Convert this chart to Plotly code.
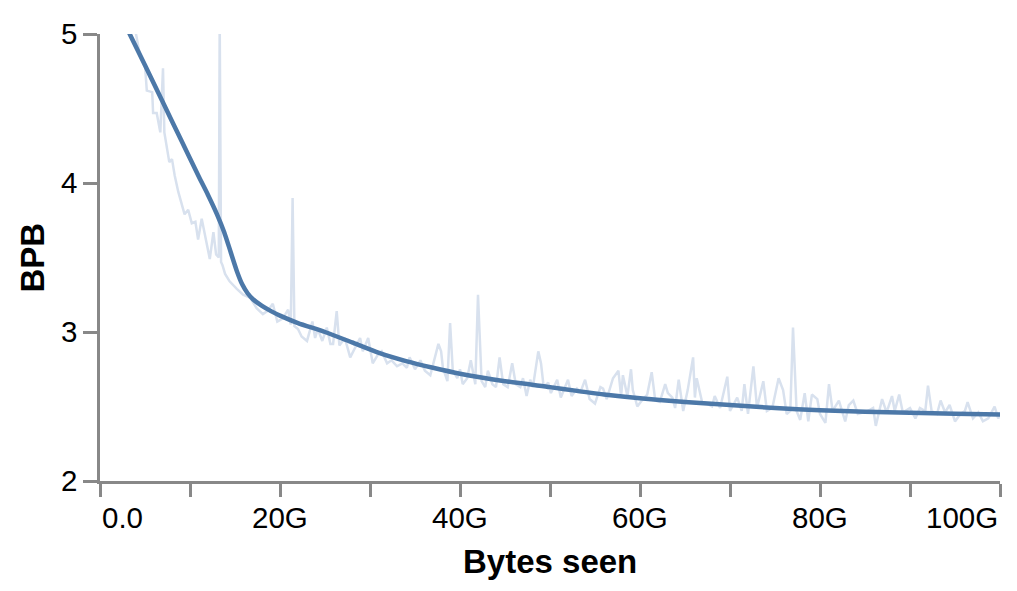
import plotly.graph_objects as go

# raw per-step BPB (x in G bytes seen)
raw_x = [
    3.5, 4.0, 4.4, 5.0, 5.2, 5.8, 5.9, 6.3, 6.7, 7.0,
    7.15, 7.4, 7.7, 8.0, 8.3, 8.7, 9.1, 9.4, 9.8, 10.2,
    10.6, 10.9, 11.3, 11.7, 12.2, 12.6, 12.9, 13.2, 13.3, 13.45,
    13.6, 13.9, 14.4, 15.2, 15.9, 16.7, 17.4, 18.1, 18.6, 19.2,
    19.7, 20.3, 20.9, 21.2, 21.4, 21.6, 22.0, 22.4, 23.0, 23.6,
    23.9, 24.2, 24.7, 25.2, 25.6, 25.9, 26.3, 26.6, 27.2, 27.8,
    28.3, 28.9, 29.2, 29.8, 30.3, 30.9, 31.3, 31.9, 32.4, 33.0,
    33.6, 34.1, 34.4, 35.0, 35.6, 36.1, 36.7, 37.2, 37.6, 37.9,
    38.1, 38.6, 38.9, 39.2, 39.7, 40.0, 40.3, 40.8, 41.2, 41.7,
    42.0, 42.4, 42.8, 43.1, 43.6, 44.0, 44.4, 44.8, 45.3, 45.8,
    46.2, 46.7, 47.0, 47.4, 47.8, 48.1, 48.7, 49.0, 49.3, 49.8,
    50.1, 50.8, 51.2, 52.0, 52.4, 53.0, 53.4, 53.9, 54.4, 55.0,
    55.6, 55.9, 56.3, 57.0, 57.6, 57.9, 58.1, 58.6, 59.0, 59.2,
    59.7, 60.2, 60.8, 61.3, 61.7, 62.2, 62.8, 63.1, 63.6, 63.9,
    64.3, 64.8, 65.3, 65.9, 66.1, 66.3, 66.9, 67.4, 68.0, 68.3,
    68.9, 69.7, 70.0, 70.8, 71.3, 71.6, 72.0, 72.6, 73.0, 73.7,
    74.1, 74.7, 75.4, 75.9, 76.3, 76.7, 77.0, 77.4, 77.8, 78.3,
    78.7, 79.1, 79.7, 80.0, 80.6, 81.0, 81.4, 82.1, 82.8, 83.2,
    83.7, 84.2, 84.8, 85.3, 85.9, 86.2, 86.9, 87.4, 88.0, 88.3,
    88.8, 89.2, 90.0, 90.6, 91.1, 91.7, 92.0, 92.4, 93.0, 93.4,
    93.9, 94.4, 95.0, 95.6, 96.1, 96.4, 97.0, 97.6, 98.1, 98.7,
    99.4, 99.8, 100.0,
]
raw_bpb = [
    5.10, 5.00, 4.87, 4.79, 4.62, 4.61, 4.47, 4.47, 4.34, 4.77,
    4.34, 4.25, 4.14, 4.16, 4.05, 3.94, 3.85, 3.79, 3.82, 3.73,
    3.74, 3.62, 3.76, 3.63, 3.49, 3.67, 3.52, 3.50, 5.10, 3.47,
    3.45, 3.39, 3.34, 3.29, 3.25, 3.23, 3.16, 3.12, 3.14, 3.19,
    3.07, 3.09, 3.15, 3.05, 3.90, 3.04, 3.02, 2.97, 2.94, 3.07,
    2.96, 3.02, 2.94, 3.03, 2.92, 2.92, 3.14, 2.91, 2.96, 2.83,
    2.89, 2.96, 2.87, 2.96, 2.79, 2.85, 2.87, 2.79, 2.81, 2.77,
    2.79, 2.76, 2.83, 2.75, 2.81, 2.74, 2.71, 2.83, 2.92, 2.87,
    2.76, 2.67, 3.06, 2.74, 2.69, 2.75, 2.65, 2.69, 2.81, 2.65,
    3.25, 2.67, 2.63, 2.74, 2.65, 2.63, 2.83, 2.65, 2.63, 2.79,
    2.65, 2.63, 2.69, 2.57, 2.68, 2.63, 2.87, 2.79, 2.63, 2.66,
    2.59, 2.68, 2.56, 2.68, 2.57, 2.62, 2.60, 2.68, 2.55, 2.52,
    2.63, 2.62, 2.55, 2.69, 2.74, 2.57, 2.71, 2.57, 2.75, 2.61,
    2.50, 2.54, 2.58, 2.73, 2.54, 2.53, 2.65, 2.59, 2.56, 2.49,
    2.68, 2.47, 2.61, 2.83, 2.56, 2.69, 2.53, 2.52, 2.50, 2.57,
    2.49, 2.70, 2.47, 2.56, 2.47, 2.65, 2.45, 2.77, 2.49, 2.67,
    2.47, 2.49, 2.69, 2.61, 2.45, 2.47, 3.03, 2.47, 2.41, 2.59,
    2.40, 2.58, 2.55, 2.45, 2.39, 2.65, 2.47, 2.54, 2.40, 2.51,
    2.54, 2.45, 2.46, 2.47, 2.49, 2.37, 2.55, 2.46, 2.57, 2.47,
    2.58, 2.46, 2.49, 2.42, 2.49, 2.47, 2.64, 2.47, 2.45, 2.54,
    2.46, 2.51, 2.40, 2.45, 2.47, 2.53, 2.42, 2.46, 2.40, 2.42,
    2.50, 2.42, 2.45,
]

# smoothed BPB
smooth_x = [3.0, 3.3, 5, 7, 9, 11, 12, 13, 13.8, 14.5, 15.2, 15.8, 16.4,
            17, 18, 19, 20, 22, 25, 28, 31, 34, 37, 40, 45, 50, 53, 56,
            60, 65, 70, 75, 80, 85, 90, 95, 100]
smooth_bpb = [5.04, 5.0, 4.79, 4.54, 4.29, 4.04, 3.92, 3.79, 3.67, 3.54,
              3.41, 3.32, 3.26, 3.22, 3.175, 3.14, 3.11, 3.06, 3.00, 2.93,
              2.86, 2.805, 2.76, 2.72, 2.67, 2.63, 2.605, 2.58, 2.555, 2.53,
              2.51, 2.49, 2.475, 2.465, 2.458, 2.452, 2.447]

x_ticks = [0, 10, 20, 30, 40, 50, 60, 70, 80, 90, 100]
x_labels = {0: "0.0", 20: "20G", 40: "40G", 60: "60G", 80: "80G", 100: "100G"}
y_ticks = [2, 3, 4, 5]

FONT = "Liberation Sans, Arial, Helvetica, sans-serif"
AXIS = "#888888"

fig = go.Figure()
fig.add_trace(go.Scatter(
    x=raw_x, y=raw_bpb, mode="lines",
    line=dict(color="#d8e1ee", width=2.5),
    hoverinfo="skip",
))
fig.add_trace(go.Scatter(
    x=smooth_x, y=smooth_bpb, mode="lines",
    line=dict(color="#4c78a8", width=4.5, shape="spline", smoothing=0.6),
))

# x tick labels: first left-aligned, last right-aligned
for v, t in x_labels.items():
    anchor = "left" if v == 0 else ("right" if v == 100 else "center")
    fig.add_annotation(
        x=v, xref="x", y=0, yref="paper", text=t, showarrow=False,
        xanchor=anchor, yanchor="middle", yshift=-36,
        font=dict(family=FONT, size=29.5, color="black"),
    )

fig.add_annotation(
    x=0.5, xref="paper", y=0, yref="paper", text="<b>Bytes seen</b>",
    showarrow=False, xanchor="center", yanchor="middle", yshift=-80,
    font=dict(family=FONT, size=33, color="black"),
)
fig.add_annotation(
    x=0, xref="paper", y=0.5, yref="paper", text="<b>BPB</b>",
    showarrow=False, xanchor="center", yanchor="middle", xshift=-68,
    textangle=-90, font=dict(family=FONT, size=33, color="black"),
)

fig.update_xaxes(
    range=[0, 100], tickvals=x_ticks, ticktext=[""] * len(x_ticks),
    ticks="outside", ticklen=13, tickwidth=2.5, tickcolor=AXIS,
    showline=True, linecolor=AXIS, linewidth=2.5,
    showgrid=False, zeroline=False,
)
fig.update_yaxes(
    range=[2, 5], tickvals=y_ticks,
    ticks="outside", ticklen=14, tickwidth=2.5, tickcolor=AXIS,
    showline=True, linecolor=AXIS, linewidth=2.5,
    showgrid=False, zeroline=False,
    tickfont=dict(family=FONT, size=29.5, color="black"),
)
# page body adds an 8px margin, so the figure is 16px smaller than the window
fig.update_layout(
    width=1001, height=575,
    margin=dict(l=92, r=9, t=23, b=102),
    plot_bgcolor="white", paper_bgcolor="white",
    showlegend=False,
)

fig.write_html("out.html")
